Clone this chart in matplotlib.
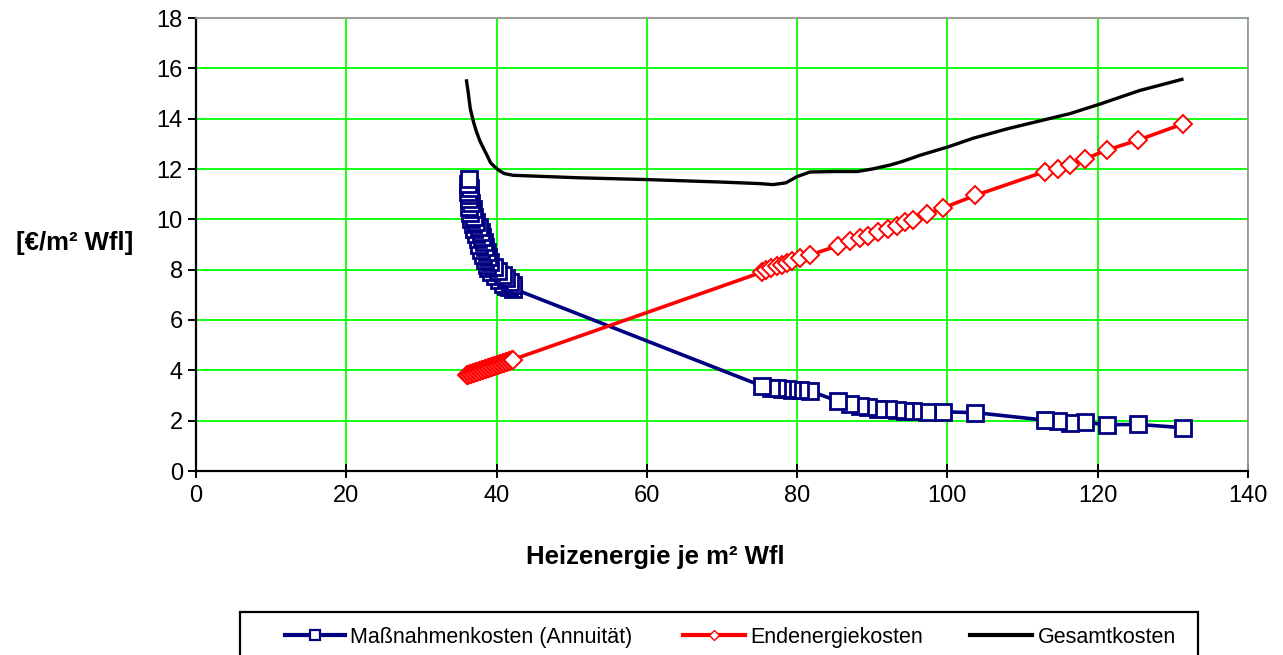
import matplotlib
matplotlib.use("Agg")
import matplotlib.pyplot as plt
from matplotlib.lines import Line2D
from matplotlib.patches import Rectangle

# ---- data ----
mass_x = [36.3, 36.2, 36.4, 36.2, 36.5, 36.3, 36.6, 36.3, 36.8, 36.5, 37.0, 36.6, 37.3, 36.8,
          37.6, 37.0, 37.9, 37.2, 38.1, 37.5, 38.3, 37.7, 38.4, 37.9, 38.7, 38.2, 38.9, 38.4,
          39.1, 38.7, 39.6, 38.9, 40.2, 39.3, 40.8, 39.8, 41.3, 40.3, 41.8, 40.8, 42.2, 41.3,
          41.7, 42.2,
          75.3, 76.5, 77.3, 78.0, 78.6, 79.3, 80.4, 81.7, 85.4, 87.0, 88.4, 89.4, 90.8, 92.1,
          93.3, 94.4, 95.4, 97.3, 99.4, 103.7, 113.0, 114.7, 116.3, 118.3, 121.2, 125.4, 131.4]
mass_y = [11.6, 11.4, 11.25, 11.1, 10.95, 10.8, 10.65, 10.5, 10.4, 10.25, 10.1, 10.0, 9.9, 9.8,
          9.7, 9.6, 9.5, 9.4, 9.3, 9.2, 9.1, 9.0, 8.9, 8.8, 8.7, 8.6, 8.5, 8.4,
          8.3, 8.2, 8.1, 8.05, 7.95, 7.9, 7.8, 7.75, 7.65, 7.6, 7.5, 7.45, 7.4, 7.35,
          7.3, 7.25,
          3.38, 3.3, 3.28, 3.26, 3.24, 3.22, 3.2, 3.18, 2.78, 2.68, 2.6, 2.55, 2.48, 2.45,
          2.42, 2.4, 2.38, 2.35, 2.35, 2.32, 2.02, 2.0, 1.92, 1.93, 1.84, 1.85, 1.72]

ende_x = [36.0, 36.2, 36.4, 36.6, 36.8, 37.0, 37.2, 37.4, 37.6, 37.8, 38.0, 38.2, 38.4, 38.6,
          38.8, 39.0, 39.2, 39.4, 39.6, 39.8, 40.0, 40.2, 40.4, 40.6, 40.8, 41.0, 41.2, 41.4,
          41.6, 41.8, 42.0, 42.2,
          75.3, 75.8, 76.5, 77.3, 78.0, 78.6, 79.3, 80.4, 81.7, 85.4, 87.0, 88.4, 89.4, 90.8,
          92.1, 93.3, 94.4, 95.4, 97.3, 99.4, 103.7, 113.0, 114.7, 116.3, 118.3, 121.2, 125.4, 131.4]
ende_y = [3.8, 3.83, 3.85, 3.87, 3.89, 3.91, 3.93, 3.95, 3.97, 3.99, 4.01, 4.03, 4.05, 4.07,
          4.09, 4.11, 4.13, 4.15, 4.17, 4.19, 4.21, 4.23, 4.25, 4.27, 4.29, 4.31, 4.33, 4.35,
          4.37, 4.39, 4.41, 4.43,
          7.9, 8.0, 8.05, 8.15, 8.2, 8.28, 8.35, 8.45, 8.58, 8.95, 9.12, 9.25, 9.35, 9.5,
          9.62, 9.75, 9.88, 9.98, 10.2, 10.45, 10.95, 11.9, 12.0, 12.15, 12.4, 12.75, 13.15, 13.8]

ges_x = [36.0, 36.2, 36.5, 36.9, 37.3, 37.8, 38.3, 38.8, 39.2, 39.7, 40.3, 41.0, 42.2, 51, 60, 70,
         75, 76.8, 78.5, 80, 81.7, 85, 88, 90, 92.4, 94, 96.4, 100.1, 103.4, 108, 112.7, 116.3,
         120.3, 125.6, 131.2]
ges_y = [15.5, 15.1, 14.4, 13.9, 13.5, 13.1, 12.8, 12.5, 12.25, 12.1, 11.95, 11.82, 11.75, 11.65,
         11.58, 11.48, 11.42, 11.38, 11.45, 11.7, 11.88, 11.9, 11.9, 12.0, 12.16, 12.3, 12.55,
         12.88, 13.22, 13.6, 13.94, 14.2, 14.58, 15.12, 15.56]

labels = ["Maßnahmenkosten (Annuität)", "Endenergiekosten", "Gesamtkosten"]
x_ticks = [0, 20, 40, 60, 80, 100, 120, 140]
y_ticks = [0, 2, 4, 6, 8, 10, 12, 14, 16, 18]

BLUE = "#000080"
RED = "#FF0000"
W, H = 1283, 655

plt.rcParams['font.family'] = ['Liberation Sans', 'DejaVu Sans']

fig = plt.figure(figsize=(W/100, H/100), dpi=100)
ax = fig.add_axes([196/W, 1-471/H, (1248-196)/W, (471-18)/H])

# Maßnahmenkosten: line in data order, markers drawn from the last point back
ax.plot(mass_x, mass_y, color=BLUE, lw=2.6, zorder=3)
ax.plot(mass_x[::-1], mass_y[::-1], linestyle='none', marker='s', ms=11.5, mfc='white',
        mec=BLUE, mew=2.0, zorder=3)
ax.plot(ende_x, ende_y, color=RED, lw=2.6, marker='D', ms=9, mfc='white',
        mec=RED, mew=1.4, zorder=4)
ax.plot(ges_x, ges_y, color='black', lw=2.4, zorder=5)

ax.set_xlim(0, 140)
ax.set_ylim(0, 18)
ax.set_xticks(x_ticks)
ax.set_yticks(y_ticks)
ax.grid(True, color='#00FF00', lw=1.3)
ax.set_axisbelow(True)
for s in ['top', 'right']:
    ax.spines[s].set_color('#999999')
    ax.spines[s].set_linewidth(1.3)
for s in ['left', 'bottom']:
    ax.spines[s].set_color('black')
    ax.spines[s].set_linewidth(1.6)
ax.tick_params(axis='both', labelsize=17, direction='out', length=6, width=1.4, color='black')
ax.tick_params(axis='x', direction='inout', length=10, pad=5)

fig.text(655/W, 1-557/H, "Heizenergie je m² Wfl", fontsize=18.5, fontweight='bold',
         ha='center', va='center')
fig.text(75/W, 1-243/H, "[€/m² Wfl]", fontsize=18.5, fontweight='bold',
         ha='center', va='center')

# ---- legend (drawn manually in figure pixel coordinates) ----
def fx(px):
    return px / W

def fy(py):
    return 1 - py / H

fig.patches.append(Rectangle((fx(240), fy(662)), fx(1198) - fx(240), fy(612) - fy(662),
                             transform=fig.transFigure, fill=False, edgecolor='black',
                             lw=1.6, zorder=10))
ly = fy(635)
entries = [
    (285, 345, 350, BLUE, dict(marker='s', ms=7, mfc='white', mec=BLUE, mew=1.6), labels[0]),
    (683, 745, 750, RED, dict(marker='D', ms=5.5, mfc='white', mec=RED, mew=1), labels[1]),
    (970, 1032, 1038, 'black', None, labels[2]),
]
for x0, x1, tx, col, mk, lab in entries:
    fig.lines.append(Line2D([fx(x0), fx(x1)], [ly, ly], transform=fig.transFigure,
                            color=col, lw=3))
    if mk is not None:
        fig.lines.append(Line2D([fx((x0 + x1) / 2)], [ly], transform=fig.transFigure,
                                linestyle='none', **mk))
    fig.text(fx(tx), ly, lab, fontsize=15.5, ha='left', va='center_baseline')

fig.savefig("out.png", dpi=100)
